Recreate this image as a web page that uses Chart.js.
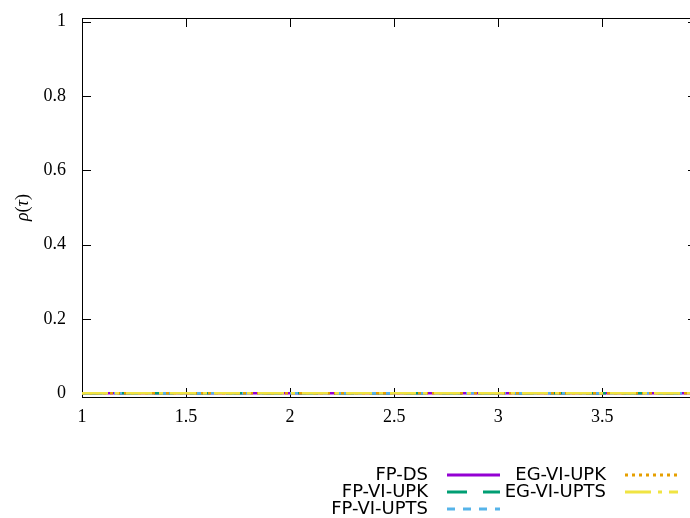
<html lang="en">
<head>
    <meta charset="UTF-8">
    <title>Performance profile</title>
    <script src="https://cdn.jsdelivr.net/npm/chart.js"></script>
    <style>
        html, body { margin: 0; padding: 0; background: #fff; overflow: hidden; }
        #wrap { width: 710px; height: 518px; }
    </style>
</head>
<body>
    <div id="wrap"><canvas id="profile" width="710" height="518"></canvas></div>

    <script>
        // tau values and rho(tau) for each solver
        const taus = [1, 1.5, 2, 2.5, 3, 3.5, 4];
        const fpDs = [0, 0, 0, 0, 0, 0, 0];
        const fpViUpk = [0, 0, 0, 0, 0, 0, 0];
        const fpViUpts = [0, 0, 0, 0, 0, 0, 0];
        const egViUpk = [0, 0, 0, 0, 0, 0, 0];
        const egViUpts = [0, 0, 0, 0, 0, 0, 0];
        const xTicks = [1, 1.5, 2, 2.5, 3, 3.5];
        const yTicks = [0, 0.2, 0.4, 0.6, 0.8, 1];

        const serif = '"Liberation Serif", "Times New Roman", serif';
        const sans = '"DejaVu Sans", sans-serif';

        function series(label, values, color, dash, order) {
            return {
                label: label,
                data: taus.map((t, i) => ({ x: t, y: values[i] })),
                borderColor: color,
                backgroundColor: color,
                borderWidth: 2.5,
                borderDash: dash,
                pointRadius: 0,
                fill: false,
                order: order
            };
        }

        // border, inward mirror ticks, y label and the two-column key
        const frame = {
            id: 'frame',
            beforeDatasetsDraw(chart) {
                const c = chart.ctx, a = chart.chartArea;
                const xs = chart.scales.x, ys = chart.scales.y;
                c.save();
                c.strokeStyle = '#000';
                c.lineWidth = 1;
                c.strokeRect(a.left + 0.5, a.top + 0.5, a.right - a.left, a.bottom - a.top);
                c.beginPath();
                xTicks.forEach(v => {
                    const px = Math.round(xs.getPixelForValue(v)) + 0.5;
                    c.moveTo(px, a.bottom); c.lineTo(px, a.bottom - 9);
                    c.moveTo(px, a.top); c.lineTo(px, a.top + 9);
                });
                yTicks.forEach(v => {
                    const py = Math.round(ys.getPixelForValue(v)) + 0.5;
                    c.moveTo(a.left, py); c.lineTo(a.left + 9, py);
                    c.moveTo(a.right, py); c.lineTo(a.right - 9, py);
                });
                c.stroke();
                c.restore();
            },
            afterDraw(chart) {
                const c = chart.ctx, a = chart.chartArea;
                c.save();
                // y axis title: rho(tau)
                c.translate(23, (a.top + a.bottom) / 2);
                c.rotate(-Math.PI / 2);
                c.fillStyle = '#000';
                c.textBaseline = 'middle';
                const parts = [['ρ', 'italic'], ['(', 'normal'], ['τ', 'italic'], [')', 'normal']];
                let w = 0;
                parts.forEach(p => { c.font = p[1] + ' 18px ' + serif; w += c.measureText(p[0]).width; });
                let x = -w / 2;
                parts.forEach(p => {
                    c.font = p[1] + ' 18px ' + serif;
                    c.fillText(p[0], x, 0);
                    x += c.measureText(p[0]).width;
                });
                c.restore();

                // key, filled column by column
                c.save();
                c.font = '18px ' + sans;
                c.textBaseline = 'middle';
                c.textAlign = 'right';
                const cols = [{ textRight: 428, x0: 447, x1: 500 }, { textRight: 606, x0: 625, x1: 678 }];
                const rows = [475, 492, 509];
                chart.data.datasets.forEach((ds, k) => {
                    const col = cols[k < 3 ? 0 : 1], y = rows[k < 3 ? k : k - 3];
                    c.fillStyle = '#000';
                    c.fillText(ds.label, col.textRight, y);
                    c.strokeStyle = ds.borderColor;
                    c.lineWidth = 3;
                    c.setLineDash(ds.borderDash);
                    c.beginPath();
                    c.moveTo(col.x0, y);
                    c.lineTo(col.x1, y);
                    c.stroke();
                    c.setLineDash([]);
                });
                c.restore();
            }
        };

        new Chart(document.getElementById('profile'), {
            type: 'line',
            data: {
                datasets: [
                    series('FP-DS', fpDs, '#9400d3', [], 5),
                    series('FP-VI-UPK', fpViUpk, '#009e73', [20, 16], 4),
                    series('FP-VI-UPTS', fpViUpts, '#56b4e9', [8, 8], 3),
                    series('EG-VI-UPK', egViUpk, '#e69f00', [3, 4], 2),
                    series('EG-VI-UPTS', egViUpts, '#f0e442', [26, 7, 4, 7], 1)
                ]
            },
            options: {
                responsive: false,
                devicePixelRatio: 1,
                animation: false,
                layout: { padding: { top: 18, right: 13, left: 0, bottom: 0 } },
                plugins: { legend: { display: false }, tooltip: { enabled: false } },
                scales: {
                    x: {
                        type: 'linear',
                        min: 1,
                        max: 3.955,
                        afterBuildTicks: s => { s.ticks = xTicks.map(v => ({ value: v })); },
                        afterFit: s => { s.height = 121; s.paddingLeft = 0; s.paddingRight = 0; },
                        grid: { display: false, drawTicks: false },
                        border: { display: false },
                        ticks: {
                            padding: 9,
                            color: '#000',
                            maxRotation: 0,
                            font: { family: serif, size: 18 },
                            callback: v => String(v)
                        }
                    },
                    y: {
                        min: -0.01,
                        max: 1.01,
                        afterBuildTicks: s => { s.ticks = yTicks.map(v => ({ value: v })); },
                        afterFit: s => { s.width = 82; s.paddingTop = 0; s.paddingBottom = 0; },
                        grid: { display: false, drawTicks: false },
                        border: { display: false },
                        ticks: {
                            padding: 16,
                            color: '#000',
                            font: { family: serif, size: 18 },
                            callback: v => String(v)
                        }
                    }
                }
            },
            plugins: [frame]
        });
    </script>
</body>
</html>
